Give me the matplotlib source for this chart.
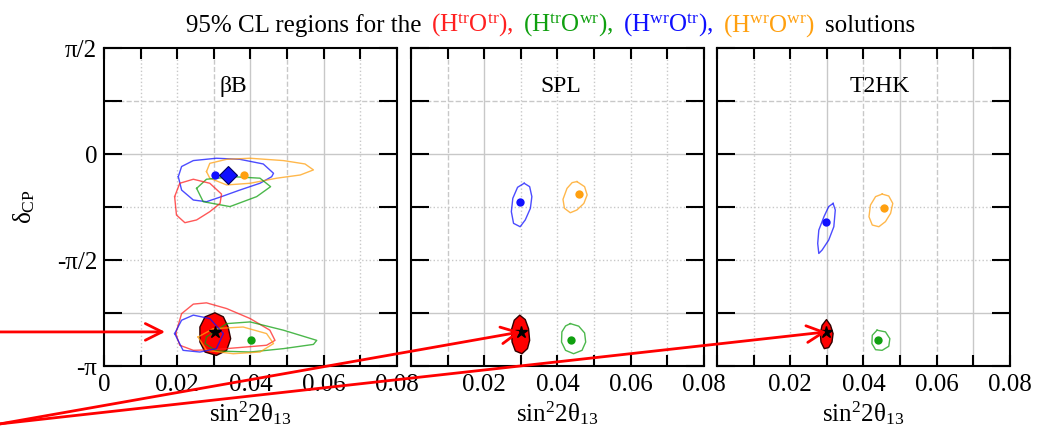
import numpy as np
import matplotlib
matplotlib.use("Agg")
import matplotlib.pyplot as plt
from matplotlib.patches import ConnectionPatch
from matplotlib.offsetbox import TextArea, HPacker, AnchoredOffsetbox

plt.rcParams['font.family'] = ['Liberation Serif', 'DejaVu Serif']
plt.rcParams['mathtext.fontset'] = 'custom'
plt.rcParams['mathtext.rm'] = 'Liberation Serif'
plt.rcParams['mathtext.it'] = 'Liberation Serif:italic'

# ---- data (x = sin^2 2theta13, y = delta_CP in units of pi) ----
panel_names = ['βB', 'SPL', 'T2HK']

# beta-beam
bb_blue_up_x = [0.0203, 0.0212, 0.0244, 0.0307, 0.0371, 0.0435, 0.0463, 0.0458, 0.0426, 0.0371, 0.0321, 0.0280, 0.0244, 0.0212]
bb_blue_up_y = [-0.107, -0.059, -0.031, -0.020, -0.025, -0.047, -0.091, -0.107, -0.138, -0.170, -0.201, -0.225, -0.217, -0.170]
bb_orange_up_x = [0.0280, 0.0289, 0.0335, 0.0399, 0.0490, 0.0549, 0.0572, 0.0536, 0.0472, 0.0399, 0.0335, 0.0289]
bb_orange_up_y = [-0.083, -0.044, -0.025, -0.020, -0.031, -0.047, -0.075, -0.099, -0.114, -0.138, -0.146, -0.114]
bb_green_up_x = [0.0253, 0.0280, 0.0353, 0.0426, 0.0455, 0.0417, 0.0344, 0.0271]
bb_green_up_y = [-0.162, -0.119, -0.107, -0.114, -0.154, -0.201, -0.248, -0.225]
bb_red_up_x = [0.0193, 0.0207, 0.0244, 0.0289, 0.0321, 0.0317, 0.0289, 0.0253, 0.0221, 0.0198]
bb_red_up_y = [-0.201, -0.138, -0.119, -0.138, -0.189, -0.233, -0.272, -0.311, -0.324, -0.288]
bb_blue_lo_x = [0.0193, 0.0212, 0.0244, 0.0289, 0.0326, 0.0307, 0.0262, 0.0216]
bb_blue_lo_y = [-0.847, -0.784, -0.760, -0.776, -0.847, -0.918, -0.934, -0.926]
bb_red_lo_x = [0.0196, 0.0212, 0.0244, 0.0280, 0.0335, 0.0399, 0.0453, 0.0467, 0.0444, 0.0390, 0.0298, 0.0244, 0.0207]
bb_red_lo_y = [-0.847, -0.753, -0.708, -0.702, -0.729, -0.776, -0.831, -0.879, -0.902, -0.910, -0.923, -0.926, -0.902]
bb_orange_lo_x = [0.0257, 0.0298, 0.0380, 0.0444, 0.0463, 0.0426, 0.0353, 0.0280]
bb_orange_lo_y = [-0.863, -0.824, -0.816, -0.847, -0.894, -0.934, -0.942, -0.926]
bb_green_lo_x = [0.0280, 0.0335, 0.0399, 0.0490, 0.0581, 0.0572, 0.0490, 0.0399, 0.0307, 0.0276]
bb_green_lo_y = [-0.863, -0.800, -0.792, -0.831, -0.879, -0.898, -0.918, -0.934, -0.929, -0.894]
bb_fill_x = [0.0303, 0.0326, 0.0339, 0.0346, 0.0335, 0.0307, 0.0276, 0.0262, 0.0262, 0.0276]
bb_fill_y = [-0.749, -0.768, -0.816, -0.871, -0.926, -0.950, -0.934, -0.887, -0.816, -0.768]
bb_dots = {'blue': (0.0303, -0.099), 'orange': (0.0382, -0.099), 'green': (0.0401, -0.879)}
bb_diamond = (0.0339, -0.099)
bb_star = (0.0303, -0.839)

# SPL
spl_blue_x = [0.0309, 0.0324, 0.0330, 0.0326, 0.0312, 0.0298, 0.0280, 0.0274, 0.0278, 0.0291]
spl_blue_y = [-0.138, -0.154, -0.201, -0.256, -0.311, -0.343, -0.327, -0.272, -0.209, -0.157]
spl_orange_x = [0.0453, 0.0474, 0.0481, 0.0472, 0.0453, 0.0435, 0.0419, 0.0415, 0.0426, 0.0440]
spl_orange_y = [-0.130, -0.154, -0.193, -0.233, -0.264, -0.277, -0.256, -0.214, -0.162, -0.135]
spl_green_x = [0.0435, 0.0458, 0.0474, 0.0477, 0.0467, 0.0444, 0.0422, 0.0411, 0.0412, 0.0422]
spl_green_y = [-0.800, -0.812, -0.844, -0.887, -0.926, -0.942, -0.926, -0.887, -0.839, -0.811]
spl_fill_x = [0.0297, 0.0312, 0.0321, 0.0324, 0.0318, 0.0303, 0.0285, 0.0276, 0.0274, 0.0282]
spl_fill_y = [-0.760, -0.781, -0.824, -0.879, -0.918, -0.942, -0.929, -0.887, -0.831, -0.784]
spl_dots = {'blue': (0.0298, -0.225), 'orange': (0.0458, -0.190), 'green': (0.0438, -0.879)}
spl_star = (0.0300, -0.839)

# T2HK
t2hk_blue_x = [0.0317, 0.0323, 0.0319, 0.0305, 0.0287, 0.0278, 0.0275, 0.0278, 0.0292, 0.0305]
t2hk_blue_y = [-0.233, -0.264, -0.343, -0.406, -0.453, -0.469, -0.422, -0.359, -0.296, -0.248]
t2hk_orange_x = [0.0451, 0.0469, 0.0480, 0.0474, 0.0460, 0.0442, 0.0424, 0.0415, 0.0419, 0.0433]
t2hk_orange_y = [-0.189, -0.198, -0.233, -0.280, -0.319, -0.343, -0.335, -0.296, -0.241, -0.201]
t2hk_green_x = [0.0437, 0.0460, 0.0472, 0.0469, 0.0451, 0.0433, 0.0423, 0.0424]
t2hk_green_y = [-0.831, -0.839, -0.871, -0.907, -0.926, -0.923, -0.894, -0.855]
t2hk_fill_x = [0.0299, 0.0310, 0.0317, 0.0314, 0.0305, 0.0293, 0.0284, 0.0282, 0.0287]
t2hk_fill_y = [-0.781, -0.808, -0.847, -0.887, -0.913, -0.918, -0.887, -0.847, -0.808]
t2hk_dots = {'blue': (0.0299, -0.319), 'orange': (0.0456, -0.256), 'green': (0.0439, -0.879)}
t2hk_star = (0.0299, -0.839)

# axes ticks
x_ticks = [0, 0.01, 0.02, 0.03, 0.04, 0.05, 0.06, 0.07, 0.08]
x_labels_first = ['0', '', '0.02', '', '0.04', '', '0.06', '', '0.08']
x_labels_other = ['', '', '0.02', '', '0.04', '', '0.06', '', '0.08']
y_ticks = [0.5, 0.25, 0, -0.25, -0.5, -0.75, -1]
y_labels = ['π/2', '', '0', '', '-π/2', '', '-π']

# grid line styles per panel (vertical at 0.01..0.07, horizontal at pi/4..-3pi/4)
grid_x_pos = [0.01, 0.02, 0.03, 0.04, 0.05, 0.06, 0.07]
grid_y_pos = [0.25, 0, -0.25, -0.5, -0.75]
grid_x_styles = [[':', ':', '--', '-', '--', '-', ':'],
                 ['--', '-', ':', ':', ':', ':', ':'],
                 [':', ':', '-', '--', '-', '--', '-']]
grid_y_styles = ['--', '-', ':', ':', '-']

col = {'red': '#ff2020', 'green': '#10a010', 'blue': '#1010ff', 'orange': '#ffa010'}

fig = plt.figure(figsize=(10.49, 4.42), dpi=100)
lefts = [0.0991, 0.3918, 0.6835]
axes = [fig.add_axes([l, 0.1719, 0.2793, 0.7195]) for l in lefts]

contours = [
    [('blue', bb_blue_up_x, bb_blue_up_y), ('orange', bb_orange_up_x, bb_orange_up_y),
     ('green', bb_green_up_x, bb_green_up_y), ('red', bb_red_up_x, bb_red_up_y),
     ('red', bb_red_lo_x, bb_red_lo_y), ('green', bb_green_lo_x, bb_green_lo_y),
     ('orange', bb_orange_lo_x, bb_orange_lo_y), ('blue', bb_blue_lo_x, bb_blue_lo_y)],
    [('blue', spl_blue_x, spl_blue_y), ('orange', spl_orange_x, spl_orange_y),
     ('green', spl_green_x, spl_green_y)],
    [('blue', t2hk_blue_x, t2hk_blue_y), ('orange', t2hk_orange_x, t2hk_orange_y),
     ('green', t2hk_green_x, t2hk_green_y)],
]
fills = [(bb_fill_x, bb_fill_y), (spl_fill_x, spl_fill_y), (t2hk_fill_x, t2hk_fill_y)]
dots = [bb_dots, spl_dots, t2hk_dots]
stars = [bb_star, spl_star, t2hk_star]
name_pos = [0.44, 0.51, 0.556]

for i, ax in enumerate(axes):
    ax.set_xlim(0, 0.08)
    ax.set_ylim(-1, 0.5)
    # grid
    for xp, ls in zip(grid_x_pos, grid_x_styles[i]):
        ax.axvline(xp, color='#c8c8c8', lw=1.0, ls=ls, zorder=0)
    for yp, ls in zip(grid_y_pos, grid_y_styles):
        ax.axhline(yp, color='#c8c8c8', lw=1.0, ls=ls, zorder=0)

    fx, fy = fills[i]
    ax.fill(fx, fy, facecolor='#ff0000', edgecolor='#300000', lw=1.0,
            joinstyle='round', zorder=2)
    for c, cx, cy in contours[i]:
        ax.plot(cx + cx[:1], cy + cy[:1], color=col[c], lw=1.0, alpha=0.75,
                solid_joinstyle='round', zorder=3)
    for c, (dx, dy) in dots[i].items():
        ax.plot(dx, dy, 'o', color=col[c], ms=6, mec='none', zorder=4)
    if i == 0:
        ax.plot(*bb_diamond, 'D', color='#1010ff', mec='#000060', mew=0.8, ms=9, zorder=4)
    ax.plot(*stars[i], '*', color='black', ms=9, zorder=5)

    ax.text(name_pos[i], 0.88, panel_names[i], transform=ax.transAxes,
            ha='center', va='center', fontsize=17)

    ax.set_xticks(x_ticks)
    ax.set_xticklabels(x_labels_first if i == 0 else x_labels_other)
    ax.set_yticks(y_ticks)
    ax.set_yticklabels(y_labels if i == 0 else [''] * len(y_ticks))
    ax.tick_params(axis='x', direction='in', top=True, length=8, width=1.5, labelsize=18, pad=6)
    ax.tick_params(axis='y', direction='in', right=True, length=13, width=1.5, labelsize=18, pad=5)
    for sp in ax.spines.values():
        sp.set_linewidth(1.5)
    ax.set_xlabel(r'$\mathrm{sin}^{2}\mathrm{2θ}_{13}$', fontsize=18, labelpad=2)

axes[0].set_ylabel(r'$\mathrm{δ}_{\mathrm{CP}}$', fontsize=18, labelpad=14)

# title with coloured pieces
tp = dict(fontsize=18, family='Liberation Serif')
pieces = [
    ('95% CL regions for the', 'black'),
    (r'$(\mathrm{H}^{\mathrm{tr}}\mathrm{O}^{\mathrm{tr}})$,', col['red']),
    (r'$(\mathrm{H}^{\mathrm{tr}}\mathrm{O}^{\mathrm{wr}})$,', col['green']),
    (r'$(\mathrm{H}^{\mathrm{wr}}\mathrm{O}^{\mathrm{tr}})$,', col['blue']),
    (r'$(\mathrm{H}^{\mathrm{wr}}\mathrm{O}^{\mathrm{wr}})$', col['orange']),
    ('solutions', 'black'),
]
boxes = [TextArea(s, textprops=dict(color=c, **tp)) for s, c in pieces]
packer = HPacker(children=boxes, align='baseline', pad=0, sep=7)
title_box = AnchoredOffsetbox(loc='center', child=packer, pad=0, frameon=False,
                              bbox_to_anchor=(0.525, 0.943), bbox_transform=fig.transFigure,
                              borderpad=0)
fig.add_artist(title_box)

# red arrows
arrow_kw = dict(arrowstyle='->,head_length=0.8,head_width=0.4', mutation_scale=15,
                color='#ff0000', lw=2.0, shrinkA=0, shrinkB=0, zorder=10)
arrows = [
    ((0.0, 0.249), axes[0], (0.0167, bb_star[1])),
    ((0.0, 0.041), axes[1], spl_star),
    ((0.0, 0.041), axes[2], t2hk_star),
]
for start, ax, end in arrows:
    cp = ConnectionPatch(xyA=start, coordsA=fig.transFigure, xyB=end, coordsB=ax.transData, **arrow_kw)
    fig.add_artist(cp)

fig.savefig('out.png', dpi=100)
